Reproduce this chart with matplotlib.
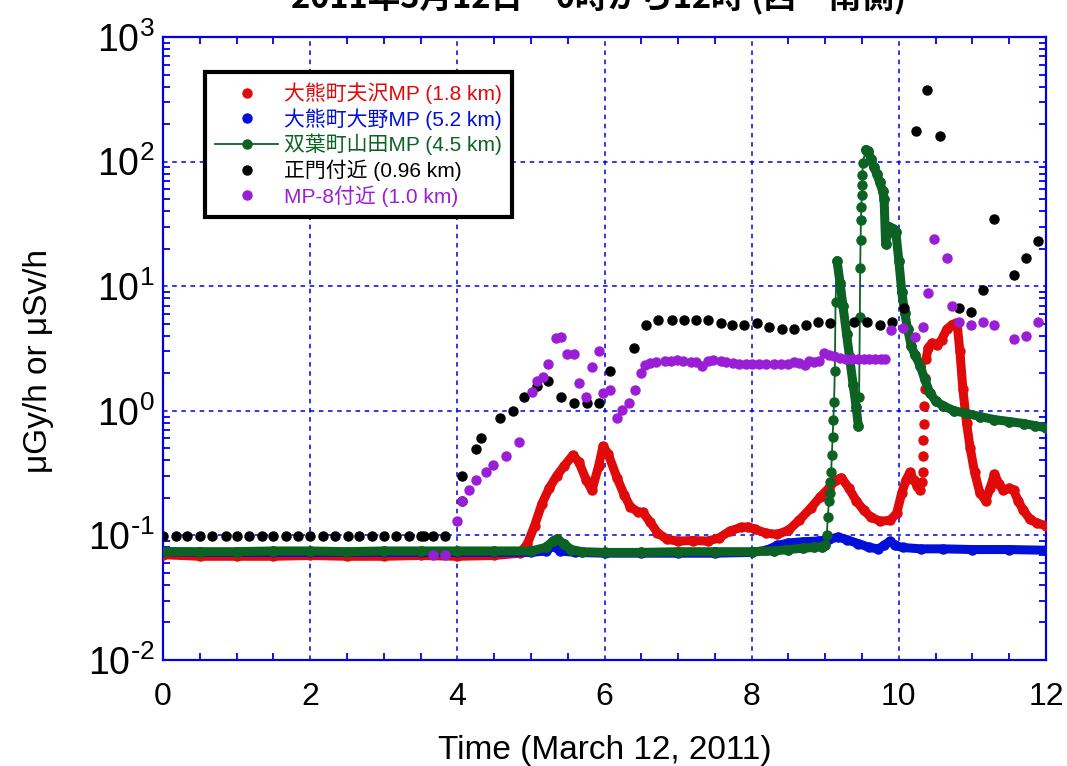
import matplotlib
matplotlib.use("Agg")
import matplotlib.pyplot as plt
from matplotlib.lines import Line2D
from matplotlib.ticker import MultipleLocator, LogLocator, NullFormatter

plt.rcParams['font.family'] = ['Liberation Sans', 'Noto Sans CJK JP', 'DejaVu Sans']
plt.rcParams['mathtext.default'] = 'regular'

# ---- data (hours after 0:00, dose rate) ----
title = '2011年3月12日　0時から12時 (西・南側)'
labels = ['大熊町夫沢MP (1.8 km)', '大熊町大野MP (5.2 km)', '双葉町山田MP (4.5 km)',
          '正門付近 (0.96 km)', 'MP-8付近 (1.0 km)']
x_ticks = [0, 2, 4, 6, 8, 10, 12]
y_ticks = [1e-2, 1e-1, 1e0, 1e1, 1e2, 1e3]
y_ticklabels = [r'$10^{\text{-}2}$', r'$10^{\text{-}1}$', '$10^{0}$', '$10^{1}$',
                '$10^{2}$', '$10^{3}$']

red_t = [0, 0.5, 1.0, 1.5, 2.0, 2.5, 3.0, 3.5, 4.0, 4.5, 4.85, 4.95, 5.05, 5.15, 5.25, 5.35,
         5.45, 5.57, 5.65, 5.75, 5.83, 5.92, 5.98, 6.05, 6.17, 6.27, 6.35, 6.45, 6.52, 6.62,
         6.72, 6.85, 7.0, 7.2, 7.4, 7.55, 7.7, 7.85, 7.95, 8.05, 8.2, 8.35, 8.5, 8.65, 8.8,
         8.93, 9.05, 9.15, 9.22, 9.32, 9.42, 9.52, 9.62, 9.75, 9.88, 9.97, 10.04, 10.1, 10.15,
         10.2, 10.25, 10.29]
red_v = [0.070, 0.068, 0.068, 0.068, 0.069, 0.068, 0.068, 0.069, 0.068, 0.069, 0.072, 0.085,
         0.12, 0.18, 0.24, 0.30, 0.36, 0.44, 0.39, 0.28, 0.23, 0.36, 0.52, 0.45, 0.29, 0.21,
         0.17, 0.155, 0.153, 0.128, 0.105, 0.093, 0.090, 0.091, 0.090, 0.095, 0.108, 0.116,
         0.117, 0.112, 0.104, 0.102, 0.11, 0.133, 0.165, 0.203, 0.24, 0.28, 0.29, 0.24, 0.19,
         0.16, 0.14, 0.13, 0.132, 0.15, 0.22, 0.28, 0.32, 0.28, 0.25, 0.23]
red_jump_t = [10.32, 10.325, 10.33, 10.335, 10.34, 10.345, 10.35, 10.355]
red_jump_v = [0.27, 0.32, 0.43, 0.58, 0.79, 1.1, 1.5, 1.83]
red2_t = [10.37, 10.40, 10.45, 10.52, 10.58, 10.65, 10.72, 10.79, 10.83, 10.87, 10.92, 10.97,
          11.03, 11.1, 11.18, 11.24, 11.30, 11.36, 11.42, 11.5, 11.56, 11.62, 11.69, 11.78,
          11.88, 12.0]
red2_v = [2.6, 3.2, 3.5, 3.4, 3.7, 4.5, 4.9, 5.1, 3.0, 1.5, 0.8, 0.5, 0.32, 0.22, 0.19, 0.24,
          0.31, 0.26, 0.23, 0.24, 0.23, 0.19, 0.16, 0.135, 0.125, 0.12]

blue_t = [0, 0.5, 1, 1.5, 2, 2.5, 3, 3.5, 4, 4.5, 5.0, 5.2, 5.3, 5.4, 5.6, 6.0, 6.5, 7.0, 7.5,
          8.0, 8.2, 8.35, 8.5, 8.7, 8.9, 9.05, 9.18, 9.3, 9.45, 9.6, 9.72, 9.8, 9.88, 9.95,
          10.05, 10.3, 10.6, 11.0, 11.5, 12.0]
blue_v = [0.074, 0.073, 0.073, 0.073, 0.073, 0.073, 0.073, 0.073, 0.073, 0.073, 0.073, 0.075,
          0.082, 0.075, 0.073, 0.072, 0.072, 0.072, 0.072, 0.073, 0.076, 0.083, 0.087, 0.089,
          0.090, 0.093, 0.097, 0.092, 0.086, 0.080, 0.078, 0.083, 0.090, 0.083, 0.080, 0.078,
          0.078, 0.077, 0.077, 0.076]

green_a_t = [0, 0.5, 1, 1.5, 2, 2.5, 3, 3.5, 4, 4.5, 5.0, 5.2, 5.3, 5.36, 5.45, 5.55, 5.7,
             6.0, 6.5, 7.0, 7.5, 8.0, 8.3, 8.5, 8.7, 8.85, 8.95, 9.0]
green_a_v = [0.074, 0.074, 0.074, 0.075, 0.075, 0.074, 0.075, 0.075, 0.075, 0.075, 0.075,
             0.080, 0.090, 0.094, 0.085, 0.077, 0.074, 0.073, 0.073, 0.074, 0.074, 0.074,
             0.075, 0.077, 0.079, 0.080, 0.081, 0.084]
green_rise1_t = [9.02, 9.035, 9.05, 9.06, 9.07, 9.08, 9.09, 9.10, 9.11, 9.12, 9.13, 9.14]
green_rise1_v = [0.10, 0.14, 0.19, 0.22, 0.27, 0.32, 0.44, 0.62, 0.84, 1.18, 2.1, 7.5]
green_b_t = [9.16, 9.20, 9.24, 9.29, 9.33, 9.38, 9.42, 9.45]
green_b_v = [16, 10.7, 7.0, 4.1, 2.7, 1.6, 1.07, 0.75]
green_rise2_t = [9.46, 9.47, 9.475, 9.48, 9.485, 9.49, 9.495, 9.50, 9.505, 9.51]
green_rise2_v = [1.3, 5.7, 14, 23.5, 34, 43, 54, 65, 78, 97.5]
green_c_t = [9.55, 9.58, 9.62, 9.66, 9.70, 9.74, 9.78, 9.80, 9.82, 9.84, 9.87, 9.92, 9.96,
             10.0, 10.04, 10.08, 10.12, 10.17, 10.22, 10.29, 10.35, 10.42, 10.5, 10.6, 10.75,
             10.9, 11.1, 11.3, 11.5, 11.7, 11.85, 12.0]
green_c_v = [125, 122, 105, 90, 80, 68, 58, 50, 22, 26, 30, 29, 27, 16, 9, 6.1, 4.5, 3.3, 2.8,
             2.3, 1.8, 1.4, 1.2, 1.1, 1.0, 0.96, 0.9, 0.85, 0.82, 0.79, 0.76, 0.73]

black_t = [0.0, 0.17, 0.33, 0.5, 0.67, 0.85, 1.01, 1.17, 1.34, 1.5, 1.67, 1.83, 2.0, 2.17,
           2.34, 2.51, 2.67, 2.84, 3.0, 3.17, 3.34, 3.51, 3.55, 3.67, 3.83, 4.07, 4.07, 4.26,
           4.32, 4.58, 4.75, 4.91, 5.08, 5.23, 5.41, 5.58, 5.76, 5.92, 6.07, 6.40, 6.57, 6.73,
           6.92, 7.08, 7.24, 7.40, 7.58, 7.73, 7.89, 8.07, 8.23, 8.41, 8.57, 8.74, 8.90, 9.06,
           9.39, 9.57, 9.74, 9.91, 10.07, 10.23, 10.38, 10.56, 10.82, 10.98, 11.14, 11.30,
           11.56, 11.73, 11.89]
black_v = [0.099, 0.099, 0.099, 0.099, 0.099, 0.099, 0.099, 0.099, 0.099, 0.099, 0.099, 0.099,
           0.099, 0.099, 0.099, 0.099, 0.099, 0.099, 0.099, 0.099, 0.099, 0.099, 0.099, 0.099,
           0.099, 0.19, 0.30, 0.49, 0.60, 0.87, 1.0, 1.29, 1.58, 1.75, 1.29, 1.16, 1.16, 1.16,
           2.08, 3.19, 4.9, 5.36, 5.36, 5.36, 5.36, 5.36, 5.07, 4.9, 4.9, 5.07, 4.7, 4.5, 4.5,
           4.9, 5.2, 5.07, 5.2, 5.2, 4.9, 5.2, 6.7, 176, 376, 160, 6.7, 6.2, 9.3, 34.6, 12.3,
           16.8, 23]

purple_t = [3.67, 3.83, 4.0, 4.07, 4.16, 4.26, 4.39, 4.49, 4.66, 4.84, 5.01, 5.08, 5.16, 5.23,
            5.34, 5.41, 5.49, 5.58, 5.65, 5.75, 5.83, 5.92, 5.98, 6.08, 6.17, 6.24, 6.33, 6.41,
            6.49, 6.55, 6.62, 6.7, 6.82, 6.9, 6.98, 7.07, 7.17, 7.25, 7.32, 7.40, 7.48, 7.58,
            7.65, 7.75, 7.83, 7.92, 8.0, 8.1, 8.2, 8.3, 8.4, 8.5, 8.58, 8.65, 8.72, 8.78, 8.85,
            8.92, 8.98, 9.05, 9.12, 9.2, 9.28, 9.36, 9.44, 9.52, 9.6, 9.68, 9.76, 9.81, 9.90,
            10.05, 10.22, 10.33, 10.40, 10.48, 10.65, 10.72, 10.82, 10.98, 11.14, 11.30,
            11.56, 11.73, 11.89]
purple_v = [0.070, 0.070, 0.13, 0.19, 0.23, 0.28, 0.32, 0.37, 0.43, 0.56, 1.42, 1.75, 1.87,
            2.38, 3.84, 3.9, 2.86, 2.86, 1.67, 1.29, 2.25, 3.02, 1.39, 1.48, 0.87, 1.01, 1.16,
            1.48, 2.0, 2.33, 2.4, 2.45, 2.5, 2.5, 2.55, 2.5, 2.48, 2.45, 2.3, 2.5, 2.55, 2.5,
            2.45, 2.4, 2.38, 2.38, 2.38, 2.38, 2.38, 2.38, 2.38, 2.36, 2.45, 2.4, 2.35, 2.5,
            2.45, 2.5, 2.9, 2.8, 2.75, 2.65, 2.6, 2.6, 2.6, 2.6, 2.6, 2.6, 2.6, 2.6, 4.45, 4.6,
            3.9, 4.7, 8.9, 23.9, 16.8, 6.9, 5.2, 4.9, 5.2, 4.9, 3.77, 4.0, 5.2]

RED = '#e00a0a'
BLUE = '#0010d8'
GREEN = '#0b6222'
PURPLE = '#9a1ed6'
AXC = '#0000e6'

fig = plt.figure(figsize=(10.67, 7.66), dpi=100)
ax = fig.add_axes([163 / 1067, 1 - 660 / 766, 883 / 1067, 623 / 766])

band = dict(lw=6.5, solid_capstyle='round', solid_joinstyle='round', marker='o', ms=6.5)

# red
ax.plot(red_t, red_v, color=RED, zorder=3, **band)
ax.plot(red_jump_t, red_jump_v, 'o', color=RED, ms=6.5, zorder=3)
ax.plot(red2_t, red2_v, color=RED, zorder=3, **band)
# blue
ax.plot(blue_t, blue_v, color=BLUE, zorder=4, **band)
# green: thin line through every sample, thick where samples are dense
green_t = green_a_t + green_rise1_t + green_b_t + green_rise2_t + green_c_t
green_v = green_a_v + green_rise1_v + green_b_v + green_rise2_v + green_c_v
ax.plot(green_t, green_v, '-o', color=GREEN, lw=1.3, ms=6.5, zorder=5)
for tt, vv in [(green_a_t, green_a_v), (green_b_t, green_b_v), (green_c_t, green_c_v)]:
    ax.plot(tt, vv, color=GREEN, zorder=5, **band)
# black and purple
ax.plot(black_t, black_v, 'o', color='black', ms=6.5, zorder=6)
ax.plot(purple_t, purple_v, 'o', color=PURPLE, ms=6.5, zorder=7)

ax.set_yscale('log')
ax.set_xlim(0, 12)
ax.set_ylim(1e-2, 1e3)

ax.set_xticks(x_ticks)
ax.set_xticklabels([str(x) for x in x_ticks])
ax.xaxis.set_minor_locator(MultipleLocator(0.5))
ax.set_yticks(y_ticks)
ax.set_yticklabels(y_ticklabels)
ax.yaxis.set_minor_locator(LogLocator(base=10, subs=range(2, 10)))
ax.yaxis.set_minor_formatter(NullFormatter())

ax.tick_params(which='both', direction='in', top=True, right=True, color=AXC,
               labelcolor='black')
ax.tick_params(axis='x', which='major', length=0, pad=16, labelsize=23)
ax.tick_params(axis='y', which='major', length=0, pad=6, labelsize=27)
ax.tick_params(which='minor', length=5, width=1.3)
for s in ax.spines.values():
    s.set_color(AXC)
    s.set_linewidth(1.6)
ax.grid(True, which='major', color=AXC, linestyle=(0, (3, 3)), linewidth=1.1)

ax.set_xlabel('Time (March 12, 2011)', fontsize=24)
ax.set_ylabel('μGy/h or μSv/h', fontsize=24)
ax.xaxis.set_label_coords(0.5, -0.121)
ax.yaxis.set_label_coords(-0.123, 0.48)

fig.text(0.561, 1 - 8 / 766, title, ha='center', va='baseline', fontsize=23.5,
         fontweight='bold', family=['Noto Sans CJK JP', 'DejaVu Sans'])

handles = [
    Line2D([], [], ls='none', marker='o', color=RED, ms=6.5),
    Line2D([], [], ls='none', marker='o', color=BLUE, ms=6.5),
    Line2D([], [], ls='-', lw=1.3, marker='o', color=GREEN, ms=6.5),
    Line2D([], [], ls='none', marker='o', color='black', ms=6.5),
    Line2D([], [], ls='none', marker='o', color=PURPLE, ms=6.5),
]
leg = ax.legend(handles, labels, loc='upper left', bbox_to_anchor=(0.0476, 0.944),
                borderaxespad=0, fancybox=False, framealpha=1, edgecolor='black',
                handlelength=3.0, handletextpad=0.3, labelspacing=0.2, borderpad=0.5,
                prop={'family': ['Liberation Sans', 'Noto Sans CJK JP', 'DejaVu Sans'],
                      'size': 15})
leg.get_frame().set_linewidth(3)
leg.set_zorder(10)
colors = [RED, BLUE, GREEN, 'black', PURPLE]
for txt, c in zip(leg.get_texts(), colors):
    txt.set_color(c)

fig.savefig('out.png', dpi=100)
